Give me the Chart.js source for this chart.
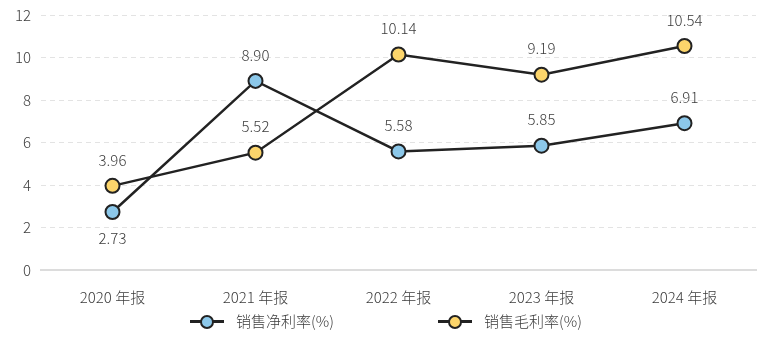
<!DOCTYPE html>
<html>
<head>
<meta charset="utf-8">
<script src="https://cdn.jsdelivr.net/npm/chart.js@4/dist/chart.umd.min.js"></script>
<style>
  html, body { margin: 0; padding: 0; background: #fff; }
  #wrap { position: relative; width: 776px; height: 354px; }
  #legend { position: absolute; left: 0; top: 310px; width: 776px; height: 22px;
            font-family: "Noto Sans CJK SC", "Noto Sans", sans-serif; font-weight: 300; font-size: 15px; color: #3c3c3c; }
  .item { position: absolute; top: 0; height: 22px; line-height: 22px; white-space: nowrap; }
  .mark { position: absolute; top: 10px; width: 34px; height: 3px; background: #222; }
  .dot { position: absolute; left: 10px; top: -5.5px; width: 10px; height: 10px; border: 2px solid #222; border-radius: 50%; }
  .txt { position: absolute; left: 46px; top: 0; }
</style>
</head>
<body>
<div id="wrap">
  <canvas id="c" width="776" height="354"></canvas>
  <div id="legend"></div>
</div>
<script>
// 数据
const categories = ['2020 年报', '2021 年报', '2022 年报', '2023 年报', '2024 年报'];
const netMargin = [2.73, 8.90, 5.58, 5.85, 6.91];
const grossMargin = [3.96, 5.52, 10.14, 9.19, 10.54];
const seriesNames = ['销售净利率(%)', '销售毛利率(%)'];
const yTicks = [0, 2, 4, 6, 8, 10, 12];

const FONT = '"Noto Sans CJK SC", "Noto Sans", sans-serif';
const colors = ['#8cc8ea', '#fcd56b'];

// 数值标签
const valueLabels = {
    id: 'valueLabels',
    afterDatasetsDraw(chart) {
        const ctx = chart.ctx;
        ctx.save();
        ctx.font = '300 15px ' + FONT;
        ctx.fillStyle = '#3c3c3c';
        ctx.textAlign = 'center';
        ctx.textBaseline = 'middle';
        chart.data.datasets.forEach((ds, di) => {
            const other = chart.data.datasets[1 - di].data;
            chart.getDatasetMeta(di).data.forEach((pt, i) => {
                const v = ds.data[i];
                const below = v < other[i] && other[i] - v < 2;
                const y = below ? pt.y + 26 : pt.y - 26;
                ctx.fillText(v.toFixed(2), pt.x, y);
            });
        });
        ctx.restore();
    }
};

function makeDs(label, data, color) {
    return {
        label: label,
        data: data,
        borderColor: '#222',
        borderWidth: 2.5,
        backgroundColor: color,
        pointBackgroundColor: color,
        pointBorderColor: '#222',
        pointBorderWidth: 2,
        pointRadius: 7,
        pointHoverRadius: 7,
        tension: 0,
        fill: false
    };
}

new Chart(document.getElementById('c'), {
    type: 'line',
    data: {
        labels: categories,
        datasets: [
            makeDs(seriesNames[0], netMargin, colors[0]),
            makeDs(seriesNames[1], grossMargin, colors[1])
        ]
    },
    options: {
        responsive: false,
        animation: false,
        layout: { padding: { top: 15, right: 20, bottom: 44, left: 0 } },
        plugins: {
            legend: { display: false },
            tooltip: { enabled: false }
        },
        scales: {
            x: {
                offset: true,
                grid: { display: false },
                border: { display: true, color: '#dcdcdc', width: 2 },
                ticks: { color: '#3c3c3c', padding: 10, font: { family: FONT, size: 15, weight: 300 } },
                afterFit(s) { s.height = 40; s.paddingLeft = 0; s.paddingRight = 0; }
            },
            y: {
                min: 0,
                max: 12,
                afterBuildTicks(s) { s.ticks = yTicks.map(v => ({ value: v })); },
                grid: {
                    drawTicks: false,
                    color: c => c.index === 0 ? 'rgba(0,0,0,0)' : '#e3e3e3',
                    lineWidth: 1
                },
                border: { display: false, dash: [5, 4] },
                ticks: { color: '#3c3c3c', padding: 10, font: { family: FONT, size: 15, weight: 300 } },
                afterFit(s) { s.width = 41; s.paddingTop = 0; s.paddingBottom = 0; }
            }
        }
    },
    plugins: [valueLabels]
});

// 图例
const legend = document.getElementById('legend');
const legendX = [190, 438];
seriesNames.forEach((name, i) => {
    const item = document.createElement('div');
    item.className = 'item';
    item.style.left = legendX[i] + 'px';
    item.innerHTML = '<div class="mark"><div class="dot" style="background:' + colors[i] + '"></div></div>' +
        '<span class="txt">' + name + '</span>';
    legend.appendChild(item);
});
</script>
</body>
</html>
